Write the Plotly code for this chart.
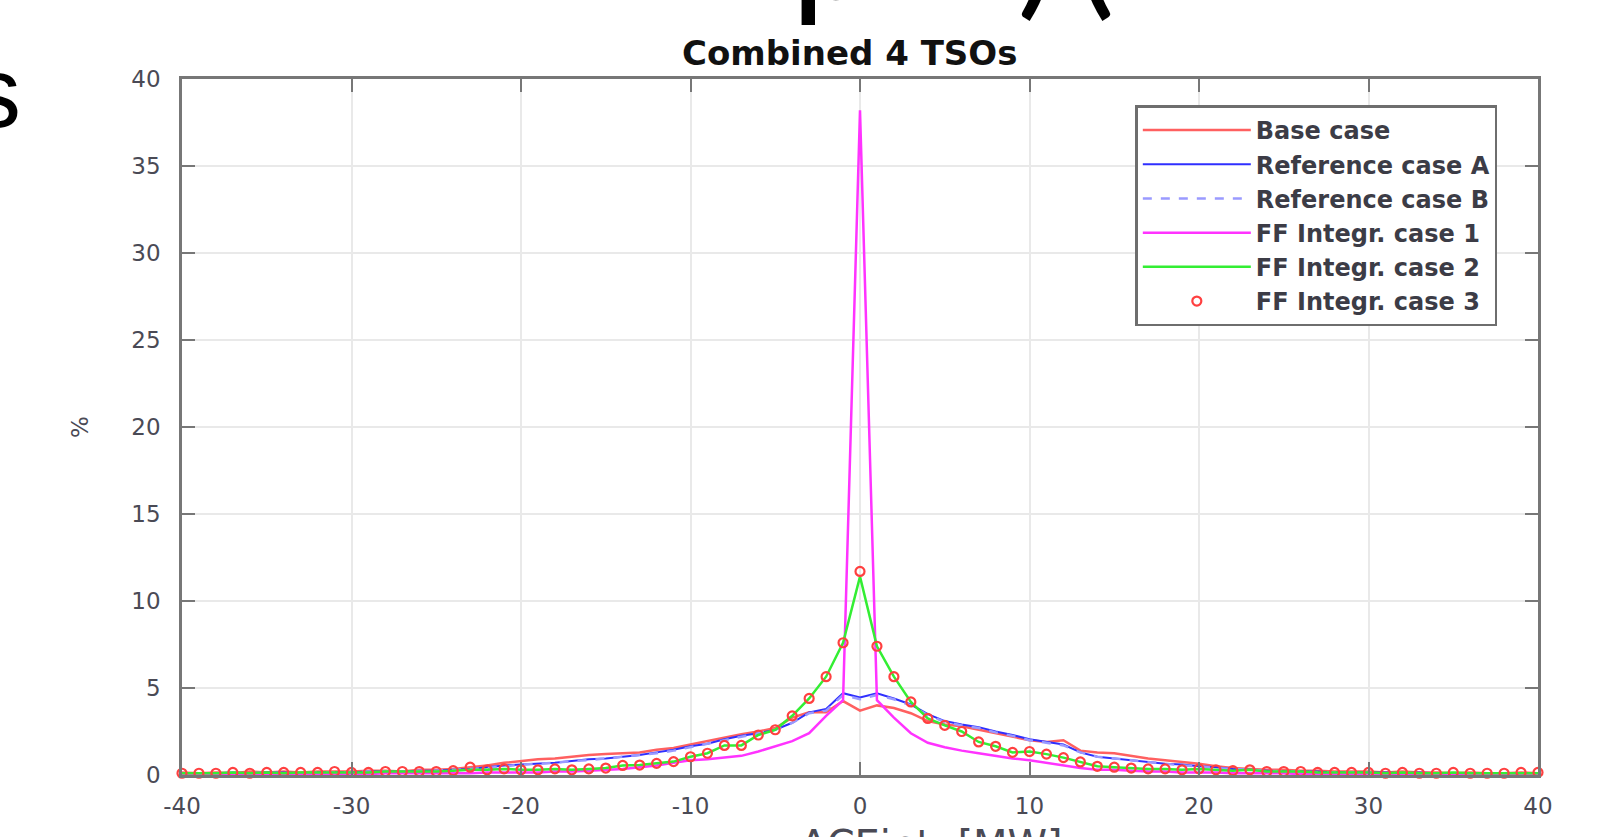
import plotly.graph_objects as go

x_mw = list(range(-40, 41))

base_case = [
    0.15, 0.10, 0.15, 0.10, 0.20, 0.15, 0.20, 0.15, 0.20, 0.20,
    0.20, 0.25, 0.25, 0.20, 0.30, 0.30, 0.35, 0.45, 0.55, 0.70,
    0.80, 0.90, 0.95, 1.05, 1.15, 1.20, 1.25, 1.30, 1.45, 1.55,
    1.75, 1.95, 2.15, 2.35, 2.50, 2.70, 3.30, 3.60, 3.60, 4.25,
    3.70, 4.00, 3.85, 3.55, 3.10, 2.90, 2.80, 2.60, 2.40, 2.20,
    2.00, 1.90, 2.00, 1.40, 1.30, 1.25, 1.10, 0.95, 0.85, 0.75,
    0.65, 0.50, 0.40, 0.35, 0.30, 0.30, 0.25, 0.25, 0.20, 0.20,
    0.20, 0.15, 0.20, 0.15, 0.15, 0.10, 0.15, 0.10, 0.10, 0.15,
    0.10,
]

ref_case_a = [
    0.10, 0.10, 0.10, 0.15, 0.10, 0.15, 0.15, 0.10, 0.15, 0.15,
    0.15, 0.20, 0.20, 0.20, 0.25, 0.25, 0.30, 0.35, 0.45, 0.55,
    0.60, 0.65, 0.70, 0.80, 0.90, 0.95, 1.05, 1.15, 1.30, 1.45,
    1.65, 1.80, 2.05, 2.25, 2.40, 2.60, 3.00, 3.60, 3.80, 4.70,
    4.45, 4.70, 4.40, 4.05, 3.50, 3.10, 2.90, 2.75, 2.50, 2.30,
    2.05, 1.90, 1.75, 1.30, 1.05, 0.95, 0.85, 0.75, 0.65, 0.60,
    0.50, 0.45, 0.35, 0.30, 0.25, 0.20, 0.20, 0.20, 0.15, 0.15,
    0.15, 0.15, 0.10, 0.15, 0.10, 0.10, 0.10, 0.10, 0.10, 0.10,
    0.10,
]

ref_case_b = [
    0.10, 0.10, 0.10, 0.10, 0.10, 0.15, 0.10, 0.10, 0.15, 0.15,
    0.15, 0.20, 0.20, 0.20, 0.25, 0.25, 0.30, 0.35, 0.40, 0.50,
    0.60, 0.65, 0.70, 0.80, 0.85, 0.95, 1.05, 1.15, 1.25, 1.40,
    1.60, 1.80, 2.00, 2.20, 2.40, 2.60, 3.00, 3.55, 3.70, 4.60,
    4.35, 4.60, 4.35, 4.00, 3.45, 3.05, 2.85, 2.70, 2.45, 2.25,
    2.00, 1.85, 1.70, 1.30, 1.05, 0.95, 0.85, 0.75, 0.65, 0.55,
    0.50, 0.40, 0.35, 0.30, 0.25, 0.20, 0.20, 0.15, 0.15, 0.15,
    0.15, 0.10, 0.10, 0.10, 0.10, 0.10, 0.10, 0.10, 0.10, 0.10,
    0.10,
]

ff_case_1 = [
    0.05, 0.05, 0.05, 0.05, 0.05, 0.05, 0.05, 0.05, 0.05, 0.05,
    0.05, 0.05, 0.10, 0.10, 0.10, 0.10, 0.10, 0.10, 0.15, 0.15,
    0.15, 0.15, 0.20, 0.20, 0.25, 0.30, 0.35, 0.45, 0.55, 0.70,
    0.85, 0.90, 1.00, 1.10, 1.35, 1.65, 1.95, 2.40, 3.40, 4.30,
    38.2, 4.30, 3.30, 2.40, 1.85, 1.60, 1.40, 1.25, 1.10, 0.95,
    0.85, 0.70, 0.55, 0.40, 0.30, 0.30, 0.25, 0.20, 0.20, 0.15,
    0.15, 0.15, 0.10, 0.10, 0.10, 0.10, 0.05, 0.05, 0.05, 0.05,
    0.05, 0.05, 0.05, 0.05, 0.05, 0.05, 0.05, 0.05, 0.05, 0.05,
    0.05,
]

ff_case_2 = [
    0.10, 0.10, 0.10, 0.15, 0.10, 0.15, 0.10, 0.15, 0.15, 0.15,
    0.15, 0.15, 0.20, 0.20, 0.20, 0.20, 0.25, 0.30, 0.30, 0.35,
    0.30, 0.30, 0.35, 0.30, 0.35, 0.40, 0.55, 0.57, 0.67, 0.77,
    1.05, 1.25, 1.70, 1.70, 2.30, 2.60, 3.40, 4.40, 5.65, 7.60,
    11.4, 7.40, 5.65, 4.20, 3.25, 2.85, 2.50, 1.90, 1.65, 1.30,
    1.35, 1.20, 1.00, 0.75, 0.50, 0.45, 0.40, 0.35, 0.35, 0.30,
    0.35, 0.30, 0.25, 0.30, 0.20, 0.20, 0.20, 0.15, 0.15, 0.15,
    0.15, 0.10, 0.15, 0.10, 0.10, 0.15, 0.10, 0.10, 0.10, 0.10,
    0.10,
]

ff_case_3 = [
    0.10, 0.10, 0.10, 0.15, 0.10, 0.15, 0.15, 0.15, 0.15, 0.20,
    0.15, 0.15, 0.20, 0.20, 0.20, 0.20, 0.25, 0.45, 0.30, 0.35,
    0.30, 0.30, 0.35, 0.30, 0.35, 0.40, 0.55, 0.57, 0.67, 0.77,
    1.05, 1.25, 1.70, 1.70, 2.30, 2.60, 3.40, 4.40, 5.65, 7.60,
    11.7, 7.40, 5.65, 4.20, 3.25, 2.85, 2.50, 1.90, 1.65, 1.30,
    1.35, 1.20, 1.00, 0.75, 0.50, 0.45, 0.40, 0.35, 0.35, 0.30,
    0.35, 0.30, 0.25, 0.30, 0.20, 0.20, 0.20, 0.15, 0.15, 0.15,
    0.15, 0.10, 0.15, 0.10, 0.10, 0.15, 0.10, 0.10, 0.10, 0.15,
    0.15,
]

series_names = ["Base case", "Reference case A", "Reference case B",
                "FF Integr. case 1", "FF Integr. case 2", "FF Integr. case 3"]
x_ticks = [-40, -30, -20, -10, 0, 10, 20, 30, 40]
x_tick_labels = ["-40", "-30", "-20", "-10", "0", "10", "20", "30", "40"]
y_ticks = [0, 5, 10, 15, 20, 25, 30, 35, 40]
y_tick_labels = ["0", "5", "10", "15", "20", "25", "30", "35", "40"]

FONT = "DejaVu Sans"
AXC = "#777777"

fig = go.Figure()
fig.add_trace(go.Scatter(x=x_mw, y=base_case, name=series_names[0], mode="lines",
                         line=dict(color="#ff6060", width=2.5)))
fig.add_trace(go.Scatter(x=x_mw, y=ref_case_a, name=series_names[1], mode="lines",
                         line=dict(color="#2f2fff", width=2)))
fig.add_trace(go.Scatter(x=x_mw, y=ref_case_b, name=series_names[2], mode="lines",
                         line=dict(color="#9a9aff", width=2.5, dash="dash")))
fig.add_trace(go.Scatter(x=x_mw, y=ff_case_1, name=series_names[3], mode="lines",
                         line=dict(color="#ff33ff", width=2.5)))
fig.add_trace(go.Scatter(x=x_mw, y=ff_case_2, name=series_names[4], mode="lines",
                         line=dict(color="#33ee33", width=2.5)))
fig.add_trace(go.Scatter(x=x_mw, y=ff_case_3, name=series_names[5], mode="markers",
                         cliponaxis=False,
                         marker=dict(symbol="circle-open", size=9, color="#ff4040",
                                     line=dict(width=2.2, color="#ff4040"))))

axis_common = dict(
    showline=True, linecolor=AXC, linewidth=2.5, mirror="allticks",
    ticks="inside", ticklen=13, tickwidth=2, tickcolor=AXC,
    showgrid=True, gridcolor="#e9e9e9", gridwidth=2, zeroline=False,
    tickfont=dict(family=FONT, size=23, color="#4a4a55"),
)

fig.update_xaxes(range=[-40, 40], tickvals=x_ticks, ticktext=x_tick_labels,
                 ticklabelstandoff=9, **axis_common)
fig.update_yaxes(range=[0, 40], tickvals=y_ticks, ticktext=y_tick_labels,
                 ticklabelstandoff=14, **axis_common)

fig.update_layout(
    width=1606, height=837,
    margin=dict(l=182, r=68, t=79, b=62),
    paper_bgcolor="white", plot_bgcolor="white",
    showlegend=True,
    legend=dict(
        x=0.97, y=0.962, xanchor="right", yanchor="top",
        bgcolor="white", bordercolor="#6e6e6e", borderwidth=2.5,
        font=dict(family=FONT, size=24, color="#3c3c46", weight="bold"),
        itemwidth=108, tracegroupgap=0,
    ),
    annotations=[
        dict(text="<b>Combined 4 TSOs</b>", xref="paper", yref="paper",
             x=0.4926, y=1.037, xanchor="center", yanchor="middle", showarrow=False,
             font=dict(family=FONT, size=34, color="#111111")),
        dict(text="%", xref="paper", yref="paper", x=-0.0752, y=0.5,
             xanchor="center", yanchor="middle", textangle=-90, showarrow=False,
             font=dict(family=FONT, size=23, color="#4a4a55")),
        dict(text="ACEint  [MW]", xref="paper", yref="paper", x=0.553, y=-0.0651,
             xanchor="center", yanchor="top", showarrow=False,
             font=dict(family=FONT, size=40, color="#4a4a55")),
        dict(text="s", xref="paper", yref="paper", x=-0.1172, y=0.9807,
             xanchor="right", yanchor="middle", showarrow=False,
             font=dict(family="Liberation Sans", size=100, color="#000000")),
        dict(text="p", xref="paper", yref="paper", x=0.4480, y=1.0664,
             xanchor="left", yanchor="bottom", showarrow=False,
             font=dict(family="Lato", size=150, color="#000000")),
        dict(text=")", xref="paper", yref="paper", x=0.6143, y=1.0664,
             xanchor="left", yanchor="bottom", showarrow=False,
             font=dict(family="Lato", size=150, color="#000000")),
        dict(text="(", xref="paper", yref="paper", x=0.6571, y=1.0664,
             xanchor="left", yanchor="bottom", showarrow=False,
             font=dict(family="Lato", size=150, color="#000000")),
    ],
)

fig.write_html("out.html", config={"displayModeBar": False},
               post_script="document.body.style.margin='0';")
